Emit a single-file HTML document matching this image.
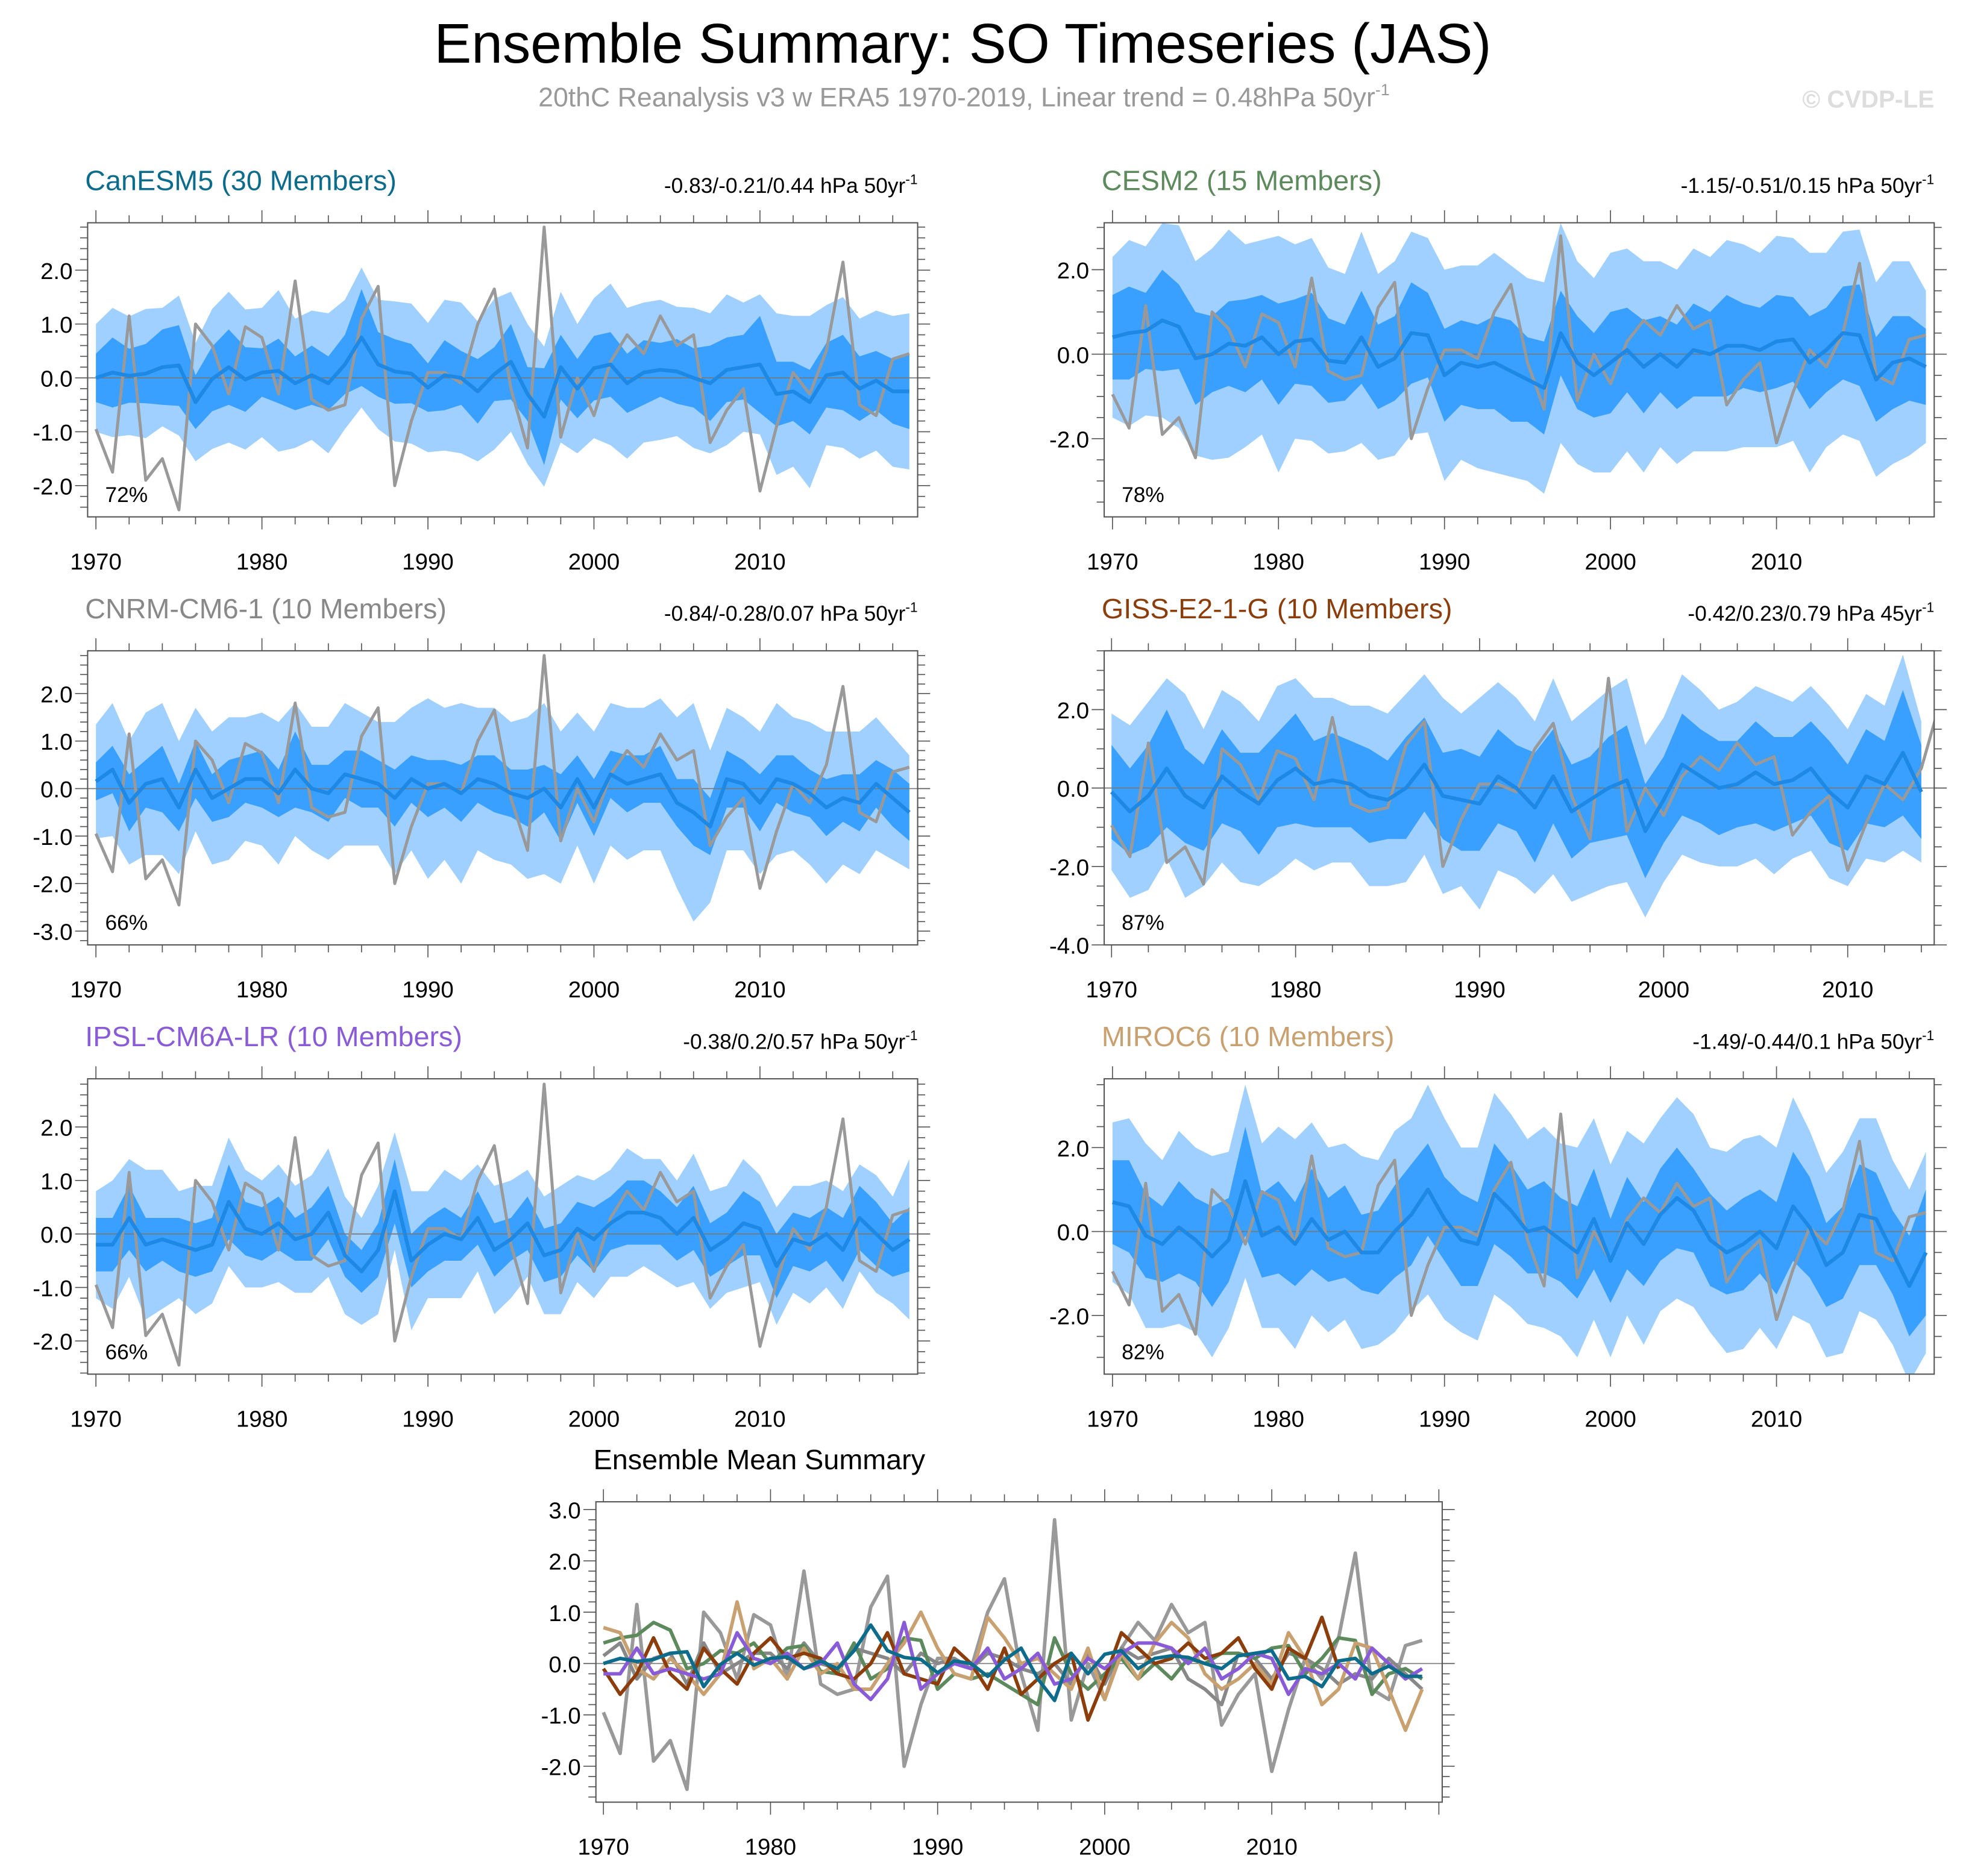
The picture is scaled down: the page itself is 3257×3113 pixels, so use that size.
<!DOCTYPE html>
<html><head><meta charset="utf-8">
<style>
html,body{margin:0;padding:0;background:#fff;}
svg{display:block;font-family:"Liberation Sans",Arial,sans-serif;}
</style></head>
<body>
<svg id="chart" width="3257" height="3113" viewBox="0 0 1568 1499" preserveAspectRatio="none" xmlns="http://www.w3.org/2000/svg">
<text x="769" y="50" font-size="44.7" text-anchor="middle" fill="#000">Ensemble Summary: SO Timeseries (JAS)</text>
<text x="770" y="85" font-size="21.5" text-anchor="middle" fill="#999">20thC Reanalysis v3 w ERA5 1970-2019, Linear trend = 0.48hPa 50yr<tspan font-size="13" dy="-9">-1</tspan></text>
<text x="1545" y="86" font-size="19.5" font-weight="bold" text-anchor="end" fill="#ddd">© CVDP-LE</text>
<g id="panels"></g>
</svg>
<script>
const obsValues=[-0.95,-1.75,1.15,-1.9,-1.5,-2.45,1.0,0.6,-0.3,0.95,0.75,-0.3,1.8,-0.4,-0.6,-0.5,1.1,1.7,-2.0,-0.8,0.1,0.1,-0.1,1.0,1.65,-0.2,-1.3,2.8,-1.1,0.0,-0.7,0.3,0.8,0.45,1.15,0.6,0.8,-1.2,-0.6,-0.2,-2.1,-0.9,0.1,-0.3,0.5,2.15,-0.5,-0.7,0.35,0.45];
const canMean=[0.0,0.1,0.04,0.08,0.2,0.23,-0.45,-0.02,0.2,-0.03,0.1,0.13,-0.1,0.05,-0.1,0.25,0.75,0.25,0.12,0.08,-0.18,0.05,0.0,-0.25,0.07,0.3,-0.3,-0.72,0.2,-0.2,0.18,0.25,-0.1,0.1,0.15,0.12,0.0,-0.1,0.15,0.2,0.25,-0.3,-0.25,-0.45,0.05,0.1,-0.2,-0.05,-0.25,-0.25];
const canW1=[0.45,0.65,0.5,0.55,0.7,0.75,0.5,0.6,0.7,0.6,0.45,0.6,0.5,0.55,0.5,0.55,0.9,0.6,0.6,0.55,0.45,0.65,0.5,0.6,0.5,0.7,0.5,0.9,0.6,0.55,0.6,0.6,0.55,0.6,0.5,0.6,0.55,0.7,0.6,0.6,0.9,0.6,0.55,0.6,0.6,0.7,0.6,0.55,0.6,0.7];
const canW2=[1.0,1.2,1.1,1.2,1.1,1.3,1.1,1.3,1.4,1.3,1.2,1.5,1.2,1.2,1.3,1.2,1.3,1.2,1.3,1.3,1.2,1.4,1.4,1.3,1.4,1.3,1.3,1.3,1.4,1.2,1.3,1.5,1.4,1.3,1.3,1.2,1.3,1.3,1.4,1.2,1.3,1.5,1.4,1.6,1.3,1.4,1.3,1.3,1.4,1.45];
const cesmMean=[0.4,0.5,0.55,0.8,0.65,-0.1,0.0,0.25,0.2,0.4,0.0,0.3,0.35,-0.15,-0.2,0.4,-0.3,-0.1,0.5,0.45,-0.5,-0.2,-0.3,-0.2,-0.4,-0.6,-0.8,0.5,-0.2,-0.5,-0.2,0.1,-0.3,0.0,-0.3,0.1,0.0,0.2,0.2,0.1,0.3,0.35,-0.2,0.1,0.5,0.45,-0.6,-0.2,-0.1,-0.3];
const cesmW1=[1.0,1.1,0.9,1.2,1.0,1.1,0.9,1.0,1.1,1.0,1.2,1.0,1.1,1.0,0.9,1.1,1.0,1.0,1.2,1.0,1.1,1.0,1.0,1.1,1.2,1.0,1.1,1.0,1.1,1.0,1.2,1.0,1.1,0.9,1.0,1.1,1.0,1.2,1.0,1.0,1.1,1.0,1.1,1.0,1.1,1.2,1.0,1.1,1.0,0.9];
const cesmW2=[1.9,2.2,2.0,2.3,2.4,2.3,2.5,2.7,2.4,2.3,2.8,2.3,2.4,2.2,2.1,2.5,2.2,2.3,2.4,2.3,2.5,2.3,2.4,2.6,2.5,2.4,2.5,2.6,2.4,2.3,2.6,2.4,2.5,2.2,2.3,2.4,2.3,2.5,2.4,2.3,2.5,2.4,2.6,2.3,2.4,2.5,2.3,2.4,2.3,1.8];
const cnrmMean=[0.15,0.4,-0.3,0.1,0.2,-0.4,0.4,-0.2,0.0,0.2,0.2,-0.1,0.4,0.0,-0.1,0.3,0.2,0.1,-0.2,0.2,0.0,0.1,-0.1,0.2,0.1,-0.1,-0.2,0.0,-0.4,0.2,-0.4,0.3,0.1,0.2,0.3,-0.3,-0.5,-0.8,0.2,0.1,-0.3,0.2,0.1,-0.1,-0.4,-0.2,-0.3,0.1,-0.2,-0.5];
const cnrmW1=[0.4,0.5,0.6,0.5,0.7,0.5,0.6,0.5,0.6,0.5,0.6,0.5,0.8,0.5,0.6,0.5,0.6,0.5,0.6,0.5,0.6,0.5,0.6,0.5,0.6,0.5,0.6,0.5,0.7,0.5,0.6,0.5,0.6,0.5,0.6,0.5,0.7,0.6,0.6,0.5,0.6,0.5,0.6,0.5,0.6,0.5,0.6,0.5,0.6,0.6];
const cnrmW2=[1.2,1.4,1.3,1.5,1.6,1.4,1.3,1.4,1.5,1.3,1.4,1.5,1.4,1.3,1.4,1.5,1.4,1.3,1.6,1.5,1.9,1.6,1.9,1.5,1.6,1.5,1.7,1.8,1.6,1.4,1.6,1.5,1.6,1.5,1.6,1.8,2.3,1.6,1.5,1.4,1.5,1.6,1.4,1.5,1.6,1.4,1.5,1.4,1.3,1.2];
const gissMean=[-0.1,-0.6,-0.2,0.5,-0.2,-0.5,0.3,-0.1,-0.4,0.2,0.5,0.1,0.2,0.1,-0.2,-0.3,0.0,0.6,-0.2,-0.3,-0.4,0.3,0.0,-0.5,0.3,-0.6,-0.3,0.0,0.2,-1.1,-0.3,0.6,0.3,0.0,0.1,0.4,0.1,0.2,0.5,-0.1,-0.5,0.3,0.1,0.9,-0.1];
const gissW1=[1.2,1.1,1.3,1.5,1.2,1.1,1.2,1.0,1.3,1.2,1.4,1.1,1.2,1.1,1.2,1.0,1.3,1.2,1.1,1.3,1.2,1.2,1.1,1.4,1.2,1.2,1.1,1.3,1.4,1.2,1.1,1.3,1.2,1.2,1.1,1.3,1.2,1.1,1.2,1.3,1.1,1.2,1.1,1.6,1.2];
const gissW2=[2.0,2.2,2.4,2.3,2.6,2.0,2.2,2.3,2.1,2.4,2.3,2.2,2.1,2.0,2.3,2.2,2.4,2.3,2.5,2.2,2.7,2.4,2.3,2.2,2.5,2.3,2.4,2.5,2.6,2.2,2.1,2.3,2.2,2.0,2.1,2.2,2.3,2.0,2.1,2.2,2.0,2.1,2.0,2.5,1.8];
const ipslMean=[-0.2,-0.2,0.3,-0.2,-0.1,-0.2,-0.3,-0.2,0.6,0.1,0.0,0.2,-0.1,0.0,0.4,-0.4,-0.7,-0.3,0.8,-0.5,-0.2,0.0,-0.1,0.3,-0.3,-0.1,0.2,-0.4,-0.3,0.1,-0.1,0.2,0.4,0.4,0.3,0.0,0.3,-0.3,-0.1,0.2,0.1,-0.6,-0.1,-0.2,0.0,-0.3,0.3,0.0,-0.3,-0.1];
const ipslW1=[0.5,0.5,0.6,0.5,0.4,0.5,0.5,0.5,0.7,0.5,0.5,0.5,0.4,0.5,0.5,0.4,0.4,0.5,0.6,0.5,0.5,0.5,0.4,0.5,0.5,0.4,0.5,0.5,0.5,0.5,0.6,0.5,0.6,0.6,0.5,0.5,0.6,0.5,0.5,0.6,0.5,0.6,0.5,0.5,0.5,0.6,0.6,0.6,0.5,0.6];
const ipslW2=[1.0,1.2,1.1,1.4,1.3,1.0,1.2,1.1,1.2,1.1,1.0,1.1,1.0,1.1,1.2,1.1,1.0,1.2,1.1,1.3,1.0,1.2,1.1,1.0,1.2,1.1,1.0,1.1,1.2,1.0,1.1,1.0,1.2,1.0,1.1,1.0,1.2,1.1,1.0,1.2,1.0,1.1,1.0,1.1,1.0,1.1,1.0,1.1,1.0,1.5];
const mirocMean=[0.7,0.6,-0.1,-0.3,0.1,-0.2,-0.6,-0.2,1.2,-0.1,0.1,-0.3,0.3,-0.2,0.0,-0.5,-0.5,0.0,0.4,1.0,0.3,-0.2,-0.3,0.9,0.5,0.0,0.1,-0.2,-0.5,0.3,-0.7,0.2,-0.3,0.4,0.8,0.5,-0.2,-0.5,-0.3,0.0,-0.4,0.6,0.1,-0.8,-0.5,0.4,0.3,-0.5,-1.3,-0.5];
const mirocW1=[1.0,1.1,1.0,0.9,1.1,1.0,1.2,1.0,1.3,1.0,1.1,1.0,1.2,1.0,1.1,0.9,1.0,1.1,1.2,1.1,1.0,1.1,1.0,1.2,1.1,1.0,1.1,1.0,1.1,1.2,1.0,1.1,1.0,1.1,1.2,1.0,1.1,1.0,1.1,1.0,1.1,1.3,1.2,1.0,1.1,1.2,1.1,1.0,1.2,1.5];
const mirocW2=[1.9,2.1,2.2,2.0,2.3,2.2,2.4,2.1,2.3,2.2,2.4,2.5,2.3,2.2,2.1,2.3,2.2,2.4,2.3,2.5,2.4,2.2,2.3,2.4,2.3,2.2,2.4,2.3,2.5,2.4,2.3,2.2,2.4,2.3,2.4,2.3,2.2,2.4,2.5,2.3,2.4,2.6,2.3,2.2,2.4,2.3,2.4,2.2,2.3,2.4];

const NS="http://www.w3.org/2000/svg";
const root=document.getElementById('panels');
function el(tag,attrs,parent){const e=document.createElementNS(NS,tag);for(const k in attrs)e.setAttribute(k,attrs[k]);(parent||root).appendChild(e);return e;}

function panel(p){
  const g=el('g',{});
  
  
  const X=yr=>p.x+(yr-p.x0)/(p.x1-p.x0)*p.w;
  const Y=v=>p.y+(p.ymax-v)/(p.ymax-p.ymin)*p.h;
  const clip='clip-'+p.name;
  const cp=el('clipPath',{id:clip},g);el('rect',{x:p.x,y:p.y,width:p.w,height:p.h},cp);
  const d=el('g',{'clip-path':'url(#'+clip+')'},g);
  function band(mean,w,fill,nm){
    let top=[],bot=[];
    mean.forEach((m,i)=>{top.push(X(1970+i)+','+Y(m+w[i]));});
    for(let i=mean.length-1;i>=0;i--)bot.push(X(1970+i)+','+Y(mean[i]-w[i]));
    const poly=el('polygon',{points:top.concat(bot).join(' '),fill:fill},d);
    
    
  }
  function line(vals,col,wd,nm){
    const pl=el('polyline',{points:vals.map((v,i)=>X(1970+i)+','+Y(v)).join(' '),fill:'none',stroke:col,'stroke-width':wd,'stroke-linejoin':'round'},d);
    
    
  }
  if(p.mean){band(p.mean,p.w2,'#a0d0ff','outer-spread-band');band(p.mean,p.w1,'#3aa0ff','inner-spread-band');}
  el('line',{x1:p.x,x2:p.x+p.w,y1:Y(0),y2:Y(0),stroke:'#777','stroke-width':0.8},d);
  if(p.mean){line(obsValues,'#999',2.4,'observed-line');line(p.mean,'#1e88e5',3,'ensemble-mean-line');}
  if(p.lines){p.lines.forEach(l=>line(l.v,l.c,2.8,l.n));}
  el('rect',{x:p.x,y:p.y,width:p.w,height:p.h,fill:'none',stroke:'#555','stroke-width':1},g);
  for(let yr=1970;yr<=p.x1;yr+=2){
    const x=X(yr),maj=(yr%10===0),L=maj?10:6;
    el('line',{x1:x,x2:x,y1:p.y+p.h,y2:p.y+p.h+L,stroke:'#555','stroke-width':0.8},g);
    el('line',{x1:x,x2:x,y1:p.y,y2:p.y-L,stroke:'#555','stroke-width':0.8},g);
    if(maj&&yr<2020){const t=el('text',{x:x,y:p.y+p.h+42,'font-size':18.5,'text-anchor':'middle',fill:'#000'},g);t.textContent=yr;
      
      }
  }
  const st=p.minor;
  for(let v=Math.ceil(p.ymin/st)*st;v<=p.ymax+1e-6;v+=st){
    const vv=Math.round(v*100)/100,y=Y(vv);
    const maj=Math.abs(vv/p.major-Math.round(vv/p.major))<1e-6,L=maj?10:6;
    el('line',{x1:p.x,x2:p.x-L,y1:y,y2:y,stroke:'#555','stroke-width':0.8},g);
    el('line',{x1:p.x+p.w,x2:p.x+p.w+L,y1:y,y2:y,stroke:'#555','stroke-width':0.8},g);
    if(maj){const t=el('text',{x:p.x-12,y:y+7,'font-size':18.5,'text-anchor':'end',fill:'#000'},g);t.textContent=vv.toFixed(1);
      
      }
  }
  const tt=el('text',{x:p.x-2,y:p.y-26,'font-size':p.tsize||22.5,fill:p.tcol},g);tt.textContent=p.title;
  
  
  if(p.trend){const tr=el('text',{x:p.x+p.w,y:p.y-24,'font-size':17,'text-anchor':'end',fill:'#000'},g);
    
    
    tr.appendChild(document.createTextNode(p.trend+' hPa '+p.per+'yr'));
    const s=el('tspan',{'font-size':11,dy:-7},tr);s.textContent='-1';}
  if(p.pct){const pc=el('text',{x:p.x+14,y:p.y+p.h-12,'font-size':17,fill:'#000'},g);pc.textContent=p.pct;
    
    }
}
const L=70,R=882,W=663,H=235;
panel({name:'canesm5-panel',x:L,y:178,w:W,h:H,x0:1969.5,x1:2019.5,ymin:-2.58,ymax:2.88,major:1,minor:0.2,mean:canMean,w1:canW1,w2:canW2,title:'CanESM5 (30 Members)',tcol:'#0d6b8c',trend:'-0.83/-0.21/0.44',per:'50',pct:'72%'});
panel({name:'cesm2-panel',x:R,y:178,w:W,h:H,x0:1969.5,x1:2019.5,ymin:-3.85,ymax:3.11,major:2,minor:0.5,mean:cesmMean,w1:cesmW1,w2:cesmW2,title:'CESM2 (15 Members)',tcol:'#5c8a5c',trend:'-1.15/-0.51/0.15',per:'50',pct:'78%'});
panel({name:'cnrm-panel',x:L,y:520,w:W,h:H,x0:1969.5,x1:2019.5,ymin:-3.29,ymax:2.9,major:1,minor:0.2,mean:cnrmMean,w1:cnrmW1,w2:cnrmW2,title:'CNRM-CM6-1 (10 Members)',tcol:'#888',trend:'-0.84/-0.28/0.07',per:'50',pct:'66%'});
panel({name:'giss-panel',x:R,y:520,w:W,h:H,x0:1969.6,x1:2014.7,ymin:-4.0,ymax:3.5,major:2,minor:0.5,mean:gissMean,w1:gissW1,w2:gissW2,title:'GISS-E2-1-G (10 Members)',tcol:'#8b3e0c',trend:'-0.42/0.23/0.79',per:'45',pct:'87%'});
panel({name:'ipsl-panel',x:L,y:862,w:W,h:236,x0:1969.5,x1:2019.5,ymin:-2.62,ymax:2.9,major:1,minor:0.2,mean:ipslMean,w1:ipslW1,w2:ipslW2,title:'IPSL-CM6A-LR (10 Members)',tcol:'#8a5bd6',trend:'-0.38/0.2/0.57',per:'50',pct:'66%'});
panel({name:'miroc6-panel',x:R,y:862,w:W,h:236,x0:1969.5,x1:2019.5,ymin:-3.4,ymax:3.64,major:2,minor:0.5,mean:mirocMean,w1:mirocW1,w2:mirocW2,title:'MIROC6 (10 Members)',tcol:'#c9a070',trend:'-1.49/-0.44/0.1',per:'50',pct:'82%'});
panel({name:'ensemble-mean-summary-panel',x:476,y:1200,w:676,h:240,x0:1969.55,x1:2020.2,ymin:-2.7,ymax:3.15,major:1,minor:0.2,title:'Ensemble Mean Summary',tcol:'#000',tsize:22.5,
 lines:[{v:obsValues,c:'#999',n:'observed-line'},{v:cnrmMean,c:'#888',n:'cnrm-mean-line'},{v:cesmMean,c:'#5c8a5c',n:'cesm2-mean-line'},{v:mirocMean,c:'#c9a070',n:'miroc6-mean-line'},{v:gissMean,c:'#8b3e0c',n:'giss-mean-line'},{v:ipslMean,c:'#8a5bd6',n:'ipsl-mean-line'},{v:canMean,c:'#0d6b8c',n:'canesm5-mean-line'}]});
</script>
</body></html>
